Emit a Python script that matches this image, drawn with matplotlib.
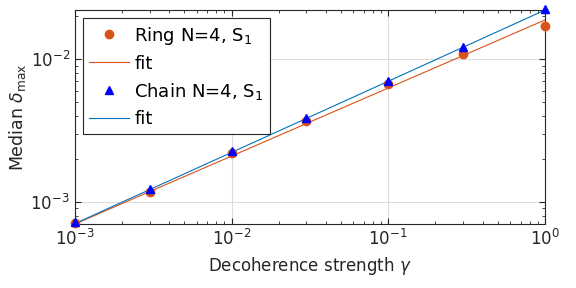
import matplotlib
matplotlib.use("Agg")
import matplotlib.pyplot as plt
import numpy as np

# decoherence strengths
gamma = [1e-3, 3e-3, 1e-2, 3e-2, 1e-1, 3e-1, 1.0]

# median delta_max
ring_delta = [7.1e-4, 1.18e-3, 2.2e-3, 3.7e-3, 6.7e-3, 1.08e-2, 1.70e-2]
chain_delta = [7.2e-4, 1.23e-3, 2.27e-3, 3.87e-3, 7.0e-3, 1.21e-2, 2.24e-2]

# power-law fits  delta = a * gamma^b
ring_fit = (1.875e-2, 0.476)
chain_fit = (2.2e-2, 0.498)

ORANGE = '#D95319'
BLUE_LINE = '#0072BD'
BLUE_MARK = '#0000FF'

plt.rcParams['font.family'] = 'DejaVu Sans'
plt.rcParams['mathtext.fontset'] = 'dejavusans'

fig = plt.figure(figsize=(5.76, 2.88), dpi=100)
ax = fig.add_axes([0.130, 0.222, 0.816, 0.743])

g = np.array(gamma)
ax.plot(g, ring_delta, 'o', color=ORANGE, markersize=6, label='Ring N=4, S$_1$',
        zorder=3, clip_on=False)
ax.plot(g, ring_fit[0] * g ** ring_fit[1], '-', color=ORANGE, lw=0.8, label='fit')
ax.plot(g, chain_delta, '^', color=BLUE_MARK, markersize=6, label='Chain N=4, S$_1$',
        zorder=3, clip_on=False)
ax.plot(g, chain_fit[0] * g ** chain_fit[1], '-', color=BLUE_LINE, lw=0.8, label='fit')

ax.set_xscale('log')
ax.set_yscale('log')
ax.set_xlim(1e-3, 1)
ax.set_ylim(7.0e-4, 2.2e-2)

ax.grid(True, which='major', color='#DDDDDD', lw=0.8)
ax.set_axisbelow(True)
ax.tick_params(which='both', direction='in', top=True, right=True, labelsize=12, colors='#262626')
ax.tick_params(which='major', length=4)
ax.tick_params(which='minor', length=2)
for s in ax.spines.values():
    s.set_color('#262626')

ax.set_xlabel(r'Decoherence strength $\gamma$', fontsize=12, color='#262626')
ax.set_ylabel(r'Median $\delta_{\max}$', fontsize=12.5, color='#262626', labelpad=2)

leg = ax.legend(loc='upper left', fontsize=13, fancybox=False, framealpha=1,
                edgecolor='#262626', handlelength=2.2, handletextpad=0.3,
                labelspacing=0.45, borderpad=0.35, borderaxespad=0.45)
leg.get_frame().set_linewidth(0.8)

plt.savefig('out.png', dpi=100)
